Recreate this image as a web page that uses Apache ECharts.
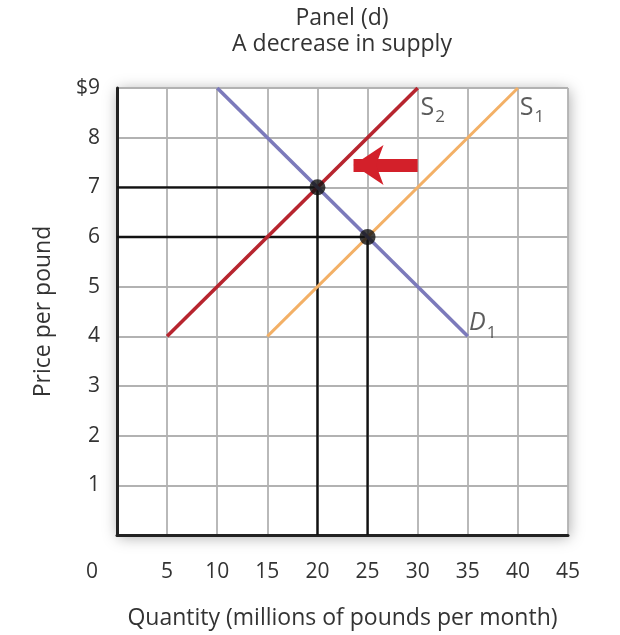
<!DOCTYPE html>
<html>
<head>
<meta charset="utf-8">
<script src="https://cdn.jsdelivr.net/npm/echarts@6/dist/echarts.min.js"></script>
<style>
  html, body { margin: 0; padding: 0; background: #fff; }
  #chart { width: 620px; height: 635px; }
</style>
</head>
<body>
<div id="chart"></div>
<script>
// demand and supply curves (quantity, price)
var demand1 = [[10, 9], [35, 4]];
var supply1 = [[15, 4], [40, 9]];
var supply2 = [[5, 4], [30, 9]];
// equilibrium points
var equilibria = [[20, 7], [25, 6]];
// shift arrow: tail -> head
var shiftArrow = [[30, 7.45], [23.6, 7.45]];
// curve labels
var curveLabels = [
  { name: 'S2', pos: [30, 9], offset: [15, 18] },
  { name: 'S1', pos: [40, 9], offset: [14, 18] },
  { name: 'D1', pos: [35, 4], offset: [15, -15] }
];

var font = '"Open Sans", "Noto Sans", sans-serif';
var txt = '#333';

var chart = echarts.init(document.getElementById('chart'));

// dropped lines from each equilibrium to both axes
var guides = equilibria.map(function (p) {
  return {
    type: 'line',
    data: [[0, p[1]], [p[0], p[1]], [p[0], 0]],
    symbol: 'none',
    lineStyle: { color: '#111', width: 2.4 },
    z: 3,
    silent: true
  };
});

function curve(data, color, width) {
  return {
    type: 'line',
    data: data,
    symbol: 'none',
    lineStyle: { color: color, width: width },
    z: 4,
    silent: true
  };
}

chart.setOption({
  animation: false,
  title: {
    text: 'Panel (d)\nA decrease in supply',
    left: 337,
    top: 0,
    textAlign: 'center',
    textStyle: { fontFamily: font, fontSize: 23, fontWeight: 'normal', color: txt, lineHeight: 26 }
  },
  grid: {
    left: 117, top: 88, right: 52, bottom: 98,
    show: true,
    backgroundColor: '#fff',
    borderWidth: 0,
    shadowBlur: 14,
    shadowColor: 'rgba(0,0,0,0.35)',
    shadowOffsetX: 1,
    shadowOffsetY: 2
  },
  xAxis: {
    type: 'value',
    min: 0, max: 45, interval: 5,
    name: 'Quantity (millions of pounds per month)',
    nameLocation: 'middle',
    nameGap: 72,
    nameTextStyle: { fontFamily: font, fontSize: 23, color: txt },
    axisLine: { show: true, lineStyle: { color: '#222', width: 3 } },
    axisTick: { show: false },
    axisLabel: {
      margin: 27,
      fontFamily: font, fontSize: 21, color: txt,
      formatter: function (v) { return v === 0 ? '{z|0}' : String(v); },
      rich: { z: { fontFamily: font, fontSize: 21, color: txt, padding: [0, 50, 0, 0] } }
    },
    splitLine: { show: true, lineStyle: { color: '#b2b2b2', width: 1.8 } }
  },
  yAxis: {
    type: 'value',
    min: 0, max: 9, interval: 1,
    name: 'Price per pound',
    nameLocation: 'middle',
    nameGap: 62,
    nameTextStyle: { fontFamily: font, fontSize: 23, color: txt },
    axisLine: { show: true, lineStyle: { color: '#222', width: 3 } },
    axisTick: { show: false },
    axisLabel: {
      margin: 17,
      fontFamily: font, fontSize: 21, color: txt,
      formatter: function (v) { return v === 0 ? '' : (v === 9 ? '$9' : String(v)); }
    },
    splitLine: { show: true, lineStyle: { color: '#b2b2b2', width: 1.8 } }
  },
  series: guides.concat([
    curve(supply1, '#f3b066', 3),
    curve(supply2, '#b7252f', 3.6),
    curve(demand1, '#7c7abb', 3.6),
    {
      type: 'scatter',
      data: equilibria,
      symbol: 'circle',
      symbolSize: 16,
      itemStyle: { color: '#111' },
      z: 6,
      silent: true
    },
    {
      type: 'line',
      data: [],
      z: 5,
      silent: true,
      markLine: {
        silent: true,
        symbol: ['none', 'arrow'],
        symbolSize: 30,
        label: { show: false },
        lineStyle: { color: '#d3202a', width: 13, type: 'solid', opacity: 1 },
        data: [[{ coord: shiftArrow[0] }, { coord: shiftArrow[1] }]]
      }
    },
    {
      type: 'scatter',
      data: curveLabels.map(function (d) {
        return { name: d.name, value: d.pos, label: { offset: d.offset } };
      }),
      symbolSize: 1,
      itemStyle: { color: 'rgba(0,0,0,0)' },
      z: 7,
      silent: true,
      label: {
        show: true,
        position: 'inside',
        formatter: function (p) {
          var n = p.name;
          return n.charAt(0) === 'D'
            ? '{d|D}{s|' + n.slice(1) + '}'
            : '{m|S}{s|' + n.slice(1) + '}';
        },
        rich: {
          m: { fontFamily: font, fontSize: 25, color: txt, lineHeight: 28, verticalAlign: 'bottom' },
          d: { fontFamily: font, fontSize: 25, fontStyle: 'italic', color: txt, lineHeight: 28, verticalAlign: 'bottom' },
          s: { fontFamily: font, fontSize: 17, color: txt, lineHeight: 18, verticalAlign: 'bottom', padding: [0, 0, -6, 1] }
        }
      }
    }
  ])
});
</script>
</body>
</html>
